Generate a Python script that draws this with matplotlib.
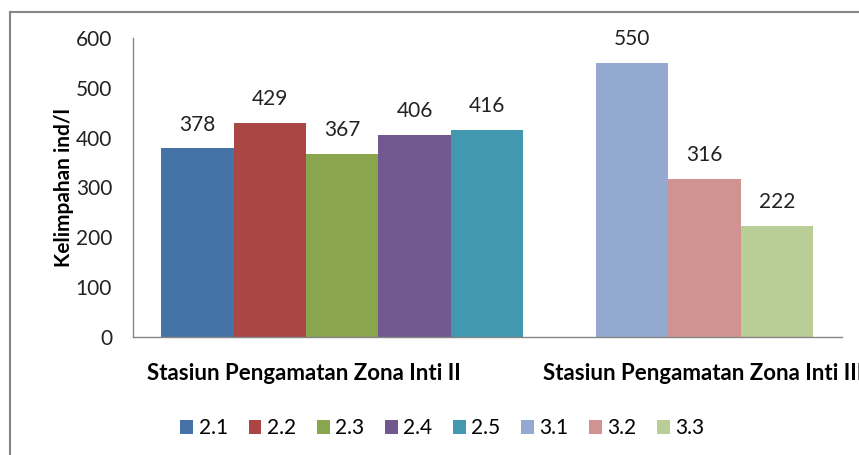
import matplotlib.pyplot as plt
from matplotlib.lines import Line2D
from matplotlib.patches import Patch

plt.rcParams['font.family'] = ['Lato', 'DejaVu Sans']

# Data
series = ["2.1", "2.2", "2.3", "2.4", "2.5", "3.1", "3.2", "3.3"]
values = [378, 429, 367, 406, 416, 550, 316, 222]
positions = [0, 1, 2, 3, 4, 6, 7, 8]
colors = ["#4572A7", "#AA4643", "#89A54E", "#71588F", "#4198AF",
          "#93A9CF", "#D19392", "#B9CD96"]
categories = ["Stasiun Pengamatan Zona Inti II", "Stasiun Pengamatan Zona Inti III"]
yticks = [0, 100, 200, 300, 400, 500, 600]

fig = plt.figure(figsize=(8.59, 4.55), dpi=100)
ax = fig.add_axes([0.1548, 0.2604, 0.8254, 0.6561])

bars = ax.bar(positions, values, width=1.0, color=colors, linewidth=0)
for pos, val in zip(positions, values):
    ax.text(pos, val + 28, str(val), ha='center', va='bottom', fontsize=15, color='#222222')

ax.set_xlim(-0.89, 8.9)
ax.set_ylim(0, 600)
ax.set_yticks(yticks)
ax.set_xticks([])
ax.tick_params(axis='y', length=0, pad=15, labelsize=15, labelcolor='#222222')
for side in ['top', 'right']:
    ax.spines[side].set_visible(False)
for side in ['left', 'bottom']:
    ax.spines[side].set_color('#868686')
    ax.spines[side].set_linewidth(1.0)

ax.set_ylabel("Kelimpahan ind/l", fontsize=15, fontweight='bold', labelpad=1)

# category labels
ax.text(0.241, -0.125, categories[0], transform=ax.transAxes, ha='center', va='center',
        fontsize=16, fontweight='bold')
ax.text(0.578, -0.125, categories[1], transform=ax.transAxes, ha='left', va='center',
        fontsize=16, fontweight='bold')

# legend
handles = [Patch(facecolor=c, edgecolor='none') for c in colors]
fig.legend(handles, series, loc='center', bbox_to_anchor=(0.515, 0.059), ncol=8,
           frameon=False, fontsize=15, handlelength=0.62, handleheight=0.62,
           handletextpad=0.25, columnspacing=1.0)

# chart area border
fig.add_artist(Line2D([10 / 859, 10 / 859], [0, 1 - 12 / 455], transform=fig.transFigure,
                      color='#868686', linewidth=1.5))
fig.add_artist(Line2D([10 / 859, 1], [1 - 12 / 455, 1 - 12 / 455], transform=fig.transFigure,
                      color='#868686', linewidth=1.5))

fig.savefig("out.png", dpi=100)
